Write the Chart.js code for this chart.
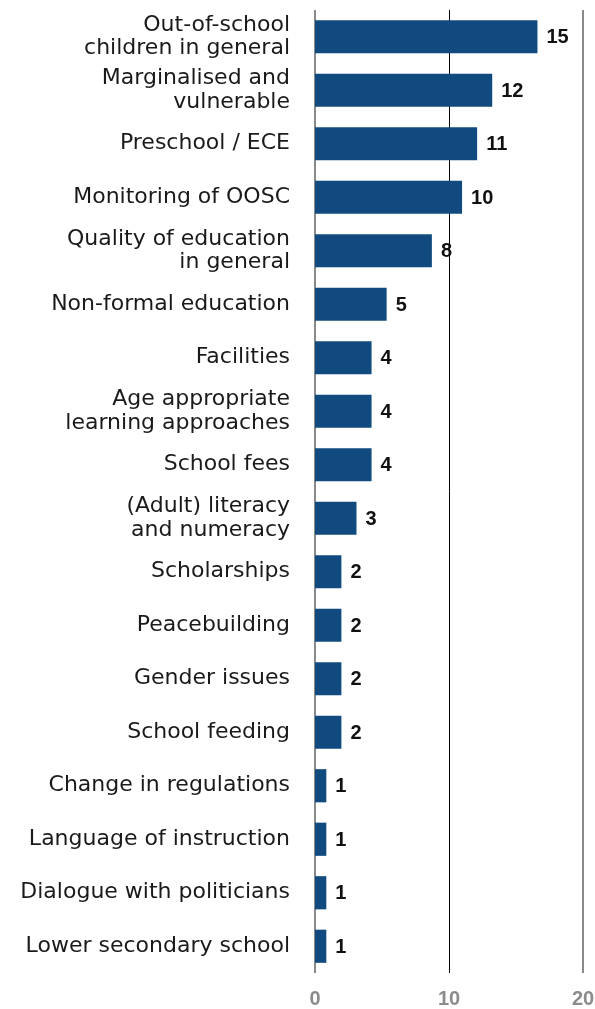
<!DOCTYPE html>
<html>
<head>
<meta charset="utf-8">
<script src="https://cdn.jsdelivr.net/npm/chart.js@4/dist/chart.umd.min.js"></script>
<style>
  html, body { margin: 0; padding: 0; background: #fff; }
  #wrap { width: 595px; height: 1009px; position: relative; }
</style>
</head>
<body>
<div id="wrap"><canvas id="c"></canvas></div>
<script>
const categories = [
  ["Out-of-school", "children in general"],
  ["Marginalised and", "vulnerable"],
  "Preschool / ECE",
  "Monitoring of OOSC",
  ["Quality of education", "in general"],
  "Non-formal education",
  "Facilities",
  ["Age appropriate", "learning approaches"],
  "School fees",
  ["(Adult) literacy", "and numeracy"],
  "Scholarships",
  "Peacebuilding",
  "Gender issues",
  "School feeding",
  "Change in regulations",
  "Language of instruction",
  "Dialogue with politicians",
  "Lower secondary school"
];
const values = [15, 12, 11, 10, 8, 5, 4, 4, 4, 3, 2, 2, 2, 2, 1, 1, 1, 1];
const axisTicks = [0, 10, 20];

const valueLabels = {
  id: 'valueLabels',
  afterDatasetsDraw(chart) {
    const ctx = chart.ctx;
    const meta = chart.getDatasetMeta(0);
    ctx.save();
    ctx.font = 'bold 20px "Liberation Sans", Arial, sans-serif';
    ctx.fillStyle = '#111111';
    ctx.textAlign = 'left';
    ctx.textBaseline = 'middle';
    meta.data.forEach((bar, i) => {
      ctx.fillText(String(values[i]), bar.x + 9, bar.y + 1);
    });
    ctx.restore();
  }
};

new Chart(document.getElementById('c'), {
  type: 'bar',
  data: {
    labels: categories,
    datasets: [{
      data: values,
      xAxisID: 'xb',
      backgroundColor: '#104a7f',
      borderWidth: 0,
      barPercentage: 0.62,
      categoryPercentage: 1.0
    }]
  },
  options: {
    indexAxis: 'y',
    responsive: true,
    maintainAspectRatio: false,
    animation: false,
    layout: { padding: { top: 10, right: 12, left: 0, bottom: 0 } },
    plugins: { legend: { display: false }, tooltip: { enabled: false } },
    scales: {
      x: {
        type: 'linear',
        position: 'bottom',
        min: 0,
        max: 20,
        afterBuildTicks(scale) { scale.ticks = axisTicks.map(v => ({ value: v })); },
        afterFit(scale) {
          scale.height = 36;
          scale.paddingLeft = 0; scale.paddingRight = 0;
          scale.paddingTop = 0; scale.paddingBottom = 0;
        },
        grid: {
          drawTicks: false,
          color: (c) => (c.tick && c.tick.value === 10) ? '#000000' : '#8a8a8a',
          lineWidth: (c) => (c.tick && c.tick.value === 10) ? 1 : 2
        },
        border: { display: false },
        ticks: {
          padding: 16,
          color: '#8c8c8c',
          font: { family: '"Liberation Sans", Arial, sans-serif', size: 20, weight: 'bold', lineHeight: 1.0 }
        }
      },
      xb: {
        type: 'linear',
        display: false,
        min: 0.25,
        max: 18.02
      },
      y: {
        grid: { display: false, drawTicks: false },
        border: { display: false },
        afterFit(scale) {
          scale.width = 315;
          scale.paddingTop = 0; scale.paddingBottom = 0;
          scale.paddingLeft = 0; scale.paddingRight = 0;
        },
        ticks: {
          padding: 25,
          color: '#1a1a1a',
          font: { family: '"DejaVu Sans", sans-serif', size: 22, lineHeight: 1.05 }
        }
      }
    }
  },
  plugins: [valueLabels]
});
</script>
</body>
</html>
